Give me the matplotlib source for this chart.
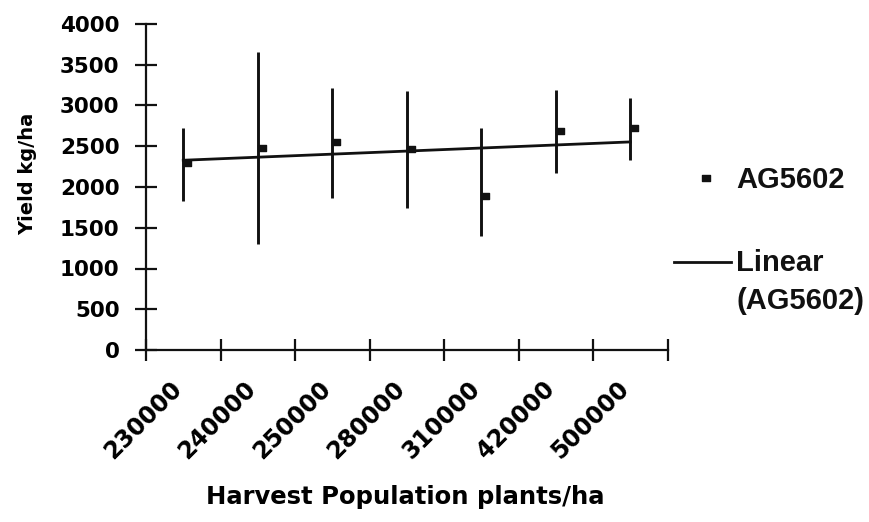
import numpy as np
import matplotlib
matplotlib.use("Agg")
import matplotlib.pyplot as plt
from matplotlib.path import Path
from matplotlib.lines import Line2D
from matplotlib.legend_handler import HandlerLine2D
from matplotlib.transforms import ScaledTranslation

# Harvest population categories and yield statistics (kg/ha)
populations = ["230000", "240000", "250000", "280000", "310000", "420000", "500000"]
yield_mean = [2290, 2480, 2550, 2465, 1890, 2690, 2720]
yield_low = [1830, 1300, 1860, 1740, 1395, 2170, 2330]
yield_high = [2730, 3660, 3220, 3180, 2730, 3190, 3090]
y_ticks = [0, 500, 1000, 1500, 2000, 2500, 3000, 3500, 4000]

series_name = "AG5602"
trend_name = "Linear\n(AG5602)"
x_title = "Harvest Population plants/ha"
y_title = "Yield kg/ha"

W, H = 870, 522
fig = plt.figure(figsize=(W / 100, H / 100), dpi=100)
fig.patch.set_facecolor("white")
ax = fig.add_axes([146 / W, 1 - 350 / H, (667.7 - 146) / W, 326 / H])

x = np.arange(len(populations))
mean = np.array(yield_mean, dtype=float)
low = np.array(yield_low, dtype=float)
high = np.array(yield_high, dtype=float)

# short dash marker that starts at the data point and runs to the right
dash = Path([(0, -0.33), (1, -0.33), (1, 0.33), (0, 0.33), (0, -0.33)],
            [Path.MOVETO, Path.LINETO, Path.LINETO, Path.LINETO, Path.CLOSEPOLY])

ink = "#111111"
ax.errorbar(x, mean, yerr=[mean - low, high - mean], fmt="none",
            ecolor=ink, elinewidth=2.1, capsize=0, zorder=2)
ax.plot(x, mean, ls="none", marker=dash, ms=11, color=ink, zorder=3)

# least-squares linear trend of the means
coef = np.polyfit(x, mean, 1)
ax.plot(x, np.polyval(coef, x), color=ink, lw=2.0, zorder=2)

ax.set_xlim(-0.5, len(populations) - 0.5)
ax.set_ylim(y_ticks[0], y_ticks[-1])

for side in ("top", "right"):
    ax.spines[side].set_visible(False)
for side in ("left", "bottom"):
    ax.spines[side].set_linewidth(1.6)
    ax.spines[side].set_color(ink)

tick_font = dict(family="DejaVu Sans", weight="bold")

ax.set_yticks(y_ticks)
ax.set_yticklabels([str(v) for v in y_ticks], fontsize=15.5, **tick_font)
ax.set_xticks(np.arange(-0.5, len(populations), 1.0))
ax.set_xticklabels([])
ax.set_xticks(x, minor=True)
ax.set_xticklabels(populations, minor=True, fontsize=17, rotation=45,
                   ha="right", va="top", rotation_mode="anchor", **tick_font)
ax.tick_params(axis="both", which="major", direction="inout", length=16,
               width=1.6, color=ink)
ax.tick_params(axis="y", which="major", pad=11)
ax.tick_params(axis="x", which="minor", length=0, pad=19)
shift = ScaledTranslation(-14 / 100, 0, fig.dpi_scale_trans)
for lab in ax.get_xticklabels(minor=True):
    lab.set_transform(lab.get_transform() + shift)

ax.set_ylabel(y_title, fontsize=14, **tick_font)
ax.yaxis.set_label_coords(-0.226, 0.54)
ax.yaxis.label.set_va("center")
ax.set_xlabel(x_title, fontsize=17.5, **tick_font)
ax.xaxis.set_label_coords(0.496, -0.451)
ax.xaxis.label.set_va("center")


class FirstRowLine(HandlerLine2D):
    """Line handle placed beside the first row of a two-row label."""

    def __init__(self, lift, **kw):
        super().__init__(**kw)
        self.lift = lift

    def create_artists(self, legend, orig_handle, xdescent, ydescent,
                       width, height, fontsize, trans):
        arts = super().create_artists(legend, orig_handle, xdescent, ydescent,
                                      width, height, fontsize, trans)
        for a in arts:
            a.set_ydata(np.asarray(a.get_ydata(), dtype=float) + self.lift * fontsize)
        return arts


point_handle = Line2D([], [], ls="none", marker=dash, ms=11, color=ink)
trend_handle = Line2D([], [], color=ink, lw=2.0)
leg = ax.legend([point_handle, trend_handle], [series_name, trend_name],
                loc="upper left", bbox_to_anchor=(674 / W, 1 - 166 / H),
                bbox_transform=fig.transFigure, frameon=False, borderpad=0,
                borderaxespad=0, handlelength=1.95, handletextpad=0.18,
                labelspacing=1.9, numpoints=1,
                prop=dict(family="Liberation Sans", weight="bold", size=21),
                handler_map={trend_handle: FirstRowLine(0.72)})
for t in leg.get_texts():
    t.set_linespacing(1.45)
    t.set_color(ink)

fig.savefig("out.png", dpi=100, facecolor="white")
